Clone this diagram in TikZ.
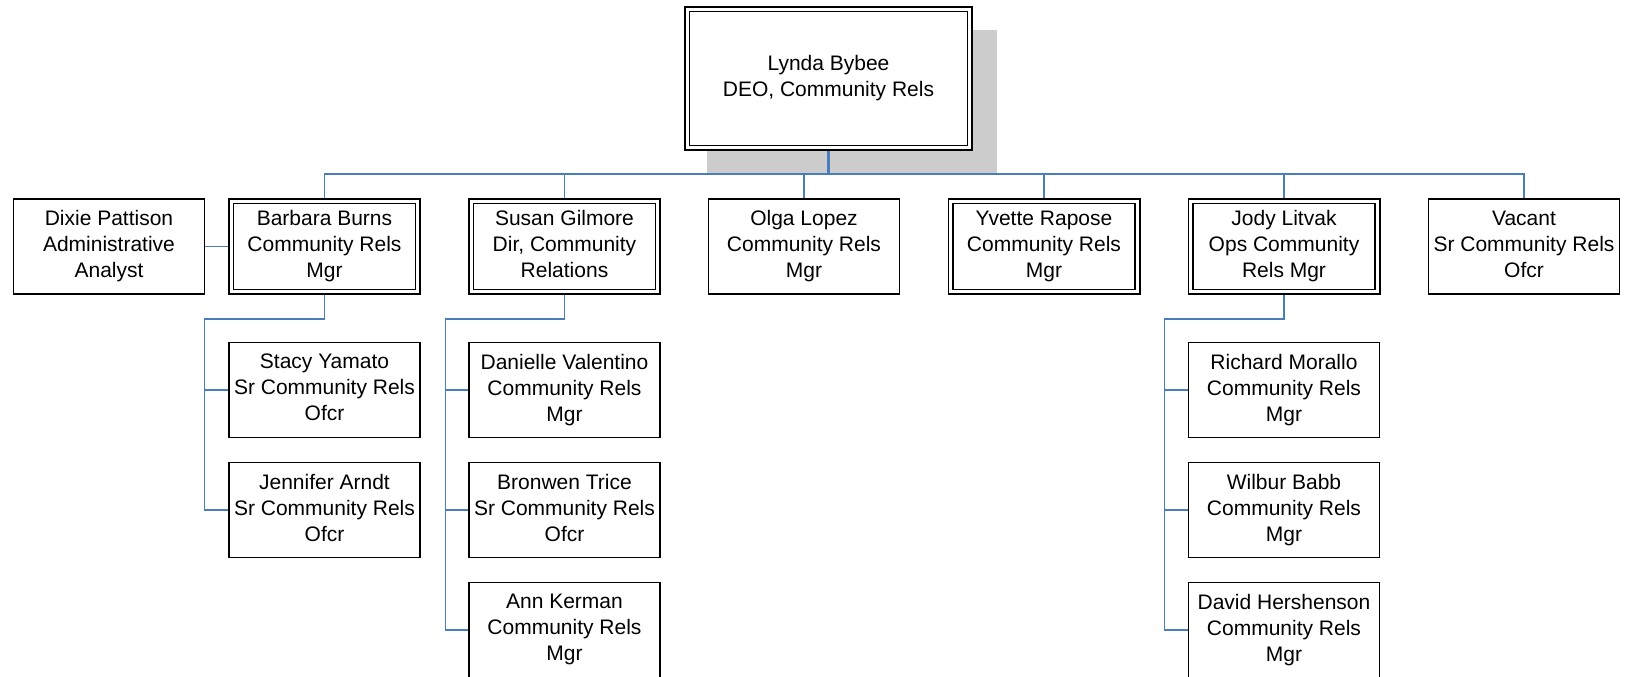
\documentclass[tikz,border=0pt]{standalone}
\usepackage{fontspec}
\setmainfont{Liberation Sans}
\usetikzlibrary{positioning, backgrounds}
\definecolor{linkblue}{RGB}{74,126,187}
\definecolor{shadowgray}{RGB}{204,204,204}

\begin{document}
\begin{tikzpicture}[
        x=1pt, y=-1pt,
        every node/.style={font=\fontsize{21}{26}\selectfont, align=center,
            execute at begin node={\rule{0pt}{20.5pt}}, execute at end node={\rule[-5pt]{0pt}{5pt}}},
        unit/.style={rectangle, draw, fill=white, line width=1.5pt, inner sep=0pt,
            minimum width=191pt, minimum height=95pt},
        lead/.style={rectangle, draw, double, double distance=3pt, fill=white,
            line width=1.6pt, inner sep=0pt, minimum width=186.8pt, minimum height=90.8pt},
        link/.style={draw=linkblue, line width=1.4pt},
        trunk/.style={draw=linkblue, line width=2.2pt}
    ]
        \useasboundingbox (0,0) rectangle (1625,677);

        % top
        \node[lead, minimum width=282.8pt, minimum height=138.8pt] (lynda) at (828.5,78.5) {Lynda Bybee\\DEO, Community Rels};

        % first row
        \node[unit] (dixie) at (109,246.5) {Dixie Pattison\\Administrative\\Analyst};
        \node[lead] (barbara) at (324.5,246.5) {Barbara Burns\\Community Rels\\Mgr};
        \node[lead] (susan) at (564.5,246.5) {Susan Gilmore\\Dir, Community\\Relations};
        \node[unit] (olga) at (804,246.5) {Olga Lopez\\Community Rels\\Mgr};
        \node[lead] (yvette) at (1044,246.5) {Yvette Rapose\\Community Rels\\Mgr};
        \node[lead] (jody) at (1284,246.5) {Jody Litvak\\Ops Community\\Rels Mgr};
        \node[unit] (vacant) at (1524,246.5) {Vacant\\Sr Community Rels\\Ofcr};

        % under Barbara
        \node[unit] (stacy) at (324.5,390) {Stacy Yamato\\Sr Community Rels\\Ofcr};
        \node[unit] (jennifer) at (324.5,510) {Jennifer Arndt\\Sr Community Rels\\Ofcr};

        % under Susan
        \node[unit] (danielle) at (564.5,390) {Danielle Valentino\\Community Rels\\Mgr};
        \node[unit] (bronwen) at (564.5,510) {Bronwen Trice\\Sr Community Rels\\Ofcr};
        \node[unit] (ann) at (564.5,630) {Ann Kerman\\Community Rels\\Mgr};

        % under Jody
        \node[unit] (richard) at (1284,390) {Richard Morallo\\Community Rels\\Mgr};
        \node[unit] (wilbur) at (1284,510) {Wilbur Babb\\Community Rels\\Mgr};
        \node[unit] (david) at (1284,630) {David Hershenson\\Community Rels\\Mgr};

        \coordinate (bus) at (828.5,174);
        \coordinate (bbfork) at (204.5,319);
        \coordinate (sgfork) at (445.5,319);
        \coordinate (jlfork) at (1164.5,319);

        \begin{scope}[on background layer]
            \fill[shadowgray] (707,30) rectangle (997,174);

            \draw[link] (barbara.north) |- (bus) -| (vacant.north);
            \draw[link] (bus) -| (susan.north);
            \draw[link] (bus) -| (olga.north);
            \draw[link] (bus) -| (yvette.north);
            \draw[link] (bus) -| (jody.north);
            \draw[trunk] (lynda.south) -- (bus);

            \draw[link] (dixie.east) -- (barbara.west);

            \draw[link] (barbara.south) |- (bbfork) |- (stacy.west);
            \draw[link] (bbfork) |- (jennifer.west);

            \draw[link] (susan.south) |- (sgfork) |- (danielle.west);
            \draw[link] (sgfork) |- (bronwen.west);
            \draw[link] (sgfork) |- (ann.west);

            \draw[link] (jody.south) |- (jlfork) |- (richard.west);
            \draw[link] (jlfork) |- (wilbur.west);
            \draw[link] (jlfork) |- (david.west);
        \end{scope}
    \end{tikzpicture}
\end{document}
